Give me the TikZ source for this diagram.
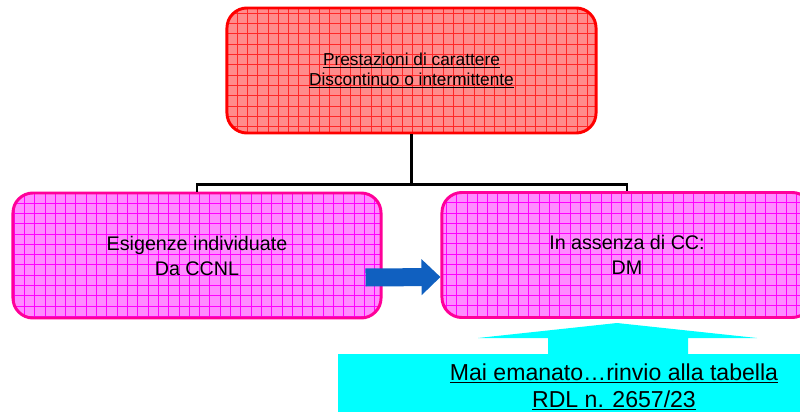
\documentclass[tikz,border=0pt]{standalone}
\usepackage{fontspec}
\setmainfont{Liberation Sans}
\usepackage{xcolor}
\usepackage{tikz}
\usetikzlibrary{arrows.meta}

\definecolor{boxred}{RGB}{255,140,140}
\definecolor{linered}{RGB}{255,40,40}
\definecolor{boxpink}{RGB}{255,140,255}
\definecolor{linepink}{RGB}{255,0,255}
\definecolor{edgepink}{RGB}{255,0,153}
\definecolor{arrowblue}{RGB}{16,96,192}
\definecolor{notecyan}{RGB}{0,255,255}

\tikzset{
  gridbox/.style={rounded corners=0.5cm, line width=2.1pt, align=center,
    minimum width=9.2cm, minimum height=3.125cm,
    path picture={\draw[#1, line width=0.45pt, step=0.2575cm]
      (path picture bounding box.south west) grid (path picture bounding box.north east);}},
  redbox/.style={gridbox=linered, draw=red, fill=boxred, minimum width=9.225cm,
    font=\fontsize{12.3}{14.2}\selectfont},
  pinkbox/.style={gridbox=linepink, draw=edgepink, fill=boxpink,
    font=\fontsize{14}{17.8}\selectfont},
  link/.style={line width=2.1pt},
  bigarrow/.style={line width=0.45cm, arrowblue, -{Triangle[length=0.475cm,width=0.875cm]}}
}

\begin{document}
\begin{tikzpicture}[x=0.025cm, y=-0.025cm]
\useasboundingbox (0,0) rectangle (800,412);

\node[redbox] (top) at (411.5,70.5)
  {\underline{Prestazioni di carattere}\\\underline{Discontinuo o intermittente}};
\node[pinkbox] (left) at (197,255.5) {Esigenze individuate\\Da CCNL};
\node[pinkbox, minimum width=9.25cm] (right) at (627,255) {In assenza di CC:\\DM};

% Bus
\path (top.south) ++(0,50) coordinate (bus);
\draw[link] (top.south) -- (bus);
\draw[link] (left.north) |- (bus) -| (right.north);

\draw[bigarrow] ([shift={(-17,22)}]left.east) -- ([shift={(0,22)}]right.west);

% Note
\fill[notecyan] (548,355) -- (548,338) -- (478,338) -- (617,323)
  -- (757,338) -- (688,338) -- (688,355) -- cycle;
\node[fill=notecyan, minimum width=13.8cm, minimum height=1.65cm, align=center,
  font=\fontsize{16.4}{19.2}\selectfont] (note) at (614,387)
  {\underline{Mai emanato…rinvio alla tabella}\\\underline{RDL n. 2657/23}};
\end{tikzpicture}
\end{document}
